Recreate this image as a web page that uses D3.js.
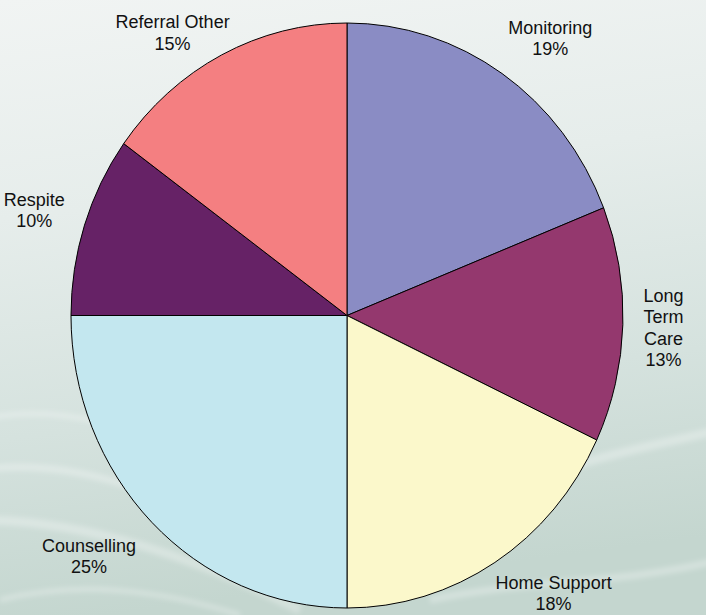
<!DOCTYPE html>
<html>
<head>
<meta charset="utf-8">
<script src="https://cdn.jsdelivr.net/npm/d3@7/dist/d3.min.js"></script>
<style>
  html, body { margin: 0; padding: 0; background: #e4ebe8; }
  svg { display: block; }
</style>
</head>
<body>
<svg id="chart" width="706" height="615"></svg>
<script>
// ---- data ----
const categories = ["Monitoring", "Long Term Care", "Home Support", "Counselling", "Respite", "Referral Other"];
const labelLines = [["Monitoring"], ["Long", "Term", "Care"], ["Home Support"], ["Counselling"], ["Respite"], ["Referral Other"]];
const values = [19, 13, 18, 25, 10, 15];
const colors = ["#8a8cc4", "#94386e", "#fbf8cb", "#c3e7ef", "#662266", "#f47f81"];

// ---- layout ----
const W = 706, H = 615;
const cx = 347, cy = 315.5;
const rx = 276, ry = 292.5;
const fontSize = 18, lineH = 21.5, capH = 13;

const svg = d3.select("#chart");
const defs = svg.append("defs");

// background gradient
const bg = defs.append("linearGradient").attr("id", "bg")
  .attr("x1", "0").attr("y1", "0").attr("x2", "0.15").attr("y2", "1");
bg.append("stop").attr("offset", "0%").attr("stop-color", "#f1f4f3");
bg.append("stop").attr("offset", "35%").attr("stop-color", "#e6edeb");
bg.append("stop").attr("offset", "70%").attr("stop-color", "#d5e2de");
bg.append("stop").attr("offset", "100%").attr("stop-color", "#c4d6cf");
svg.append("rect").attr("width", W).attr("height", H).attr("fill", "url(#bg)");

// faint decorative streaks
const blur = defs.append("filter").attr("id", "blur");
blur.append("feGaussianBlur").attr("stdDeviation", 2.5);
const streaks = svg.append("g").attr("filter", "url(#blur)").attr("fill", "none").attr("stroke", "#ffffff");
[
  "M -20 420 C 60 400, 140 430, 230 470",
  "M -20 470 C 80 455, 170 500, 260 540",
  "M -20 520 C 90 520, 200 560, 300 610",
  "M 0 600 C 80 580, 160 590, 240 615",
  "M 430 600 C 520 580, 620 585, 720 560",
  "M 560 470 C 620 450, 680 440, 720 430"
].forEach((d, i) => streaks.append("path").attr("d", d)
  .attr("stroke-width", 5 + (i % 3) * 2).attr("stroke-opacity", 0.28));

// ---- pie ----
const pie = d3.pie().sort(null).value(d => d.value);
const data = categories.map((c, i) => ({ name: c, lines: labelLines[i], value: values[i], color: colors[i] }));
const arcs = pie(data);
const arc = d3.arc().innerRadius(0).outerRadius(ry);

const g = svg.append("g").attr("transform", `translate(${cx},${cy}) scale(${rx / ry},1)`);
g.selectAll("path.slice").data(arcs).join("path")
  .attr("class", "slice")
  .attr("d", arc)
  .attr("fill", d => d.data.color)
  .attr("stroke", "#000")
  .attr("stroke-width", 1)
  .attr("stroke-linejoin", "round")
  .attr("vector-effect", "non-scaling-stroke");

// ---- labels ----
const total = d3.sum(values);
const pct = d3.format(".0%");
const labels = svg.append("g")
  .attr("font-family", "'Liberation Sans', Arial, sans-serif")
  .attr("font-size", fontSize)
  .attr("fill", "#111");

const clamp = t => Math.max(-1, Math.min(1, t));
arcs.forEach(a => {
  const lines = a.data.lines.concat([pct(a.data.value / total)]);
  const text = labels.append("text").attr("text-anchor", "middle");
  const tsp = lines.map(l => text.append("tspan").text(l));
  const w = d3.max(tsp, t => t.node().getComputedTextLength()) + 8;
  const h = (lines.length - 1) * lineH + capH + 8;
  const mid = (a.startAngle + a.endAngle) / 2;
  const s = Math.sin(mid), c = Math.cos(mid);
  const px = cx + rx * 1.06 * s, py = cy - ry * 1.06 * c;
  let bx = px + (w / 2) * clamp(s * 1.5);
  let by = py + (h / 2) * clamp(-c * 1.5);
  const visH = (lines.length - 1) * lineH + capH;
  by = Math.max(by, 15 + visH / 2);
  by = Math.min(by, H - 5 - visH / 2);
  const y0 = by - visH / 2 + capH;
  tsp.forEach((t, i) => t.attr("x", bx).attr("y", y0 + i * lineH));
});
</script>
</body>
</html>
